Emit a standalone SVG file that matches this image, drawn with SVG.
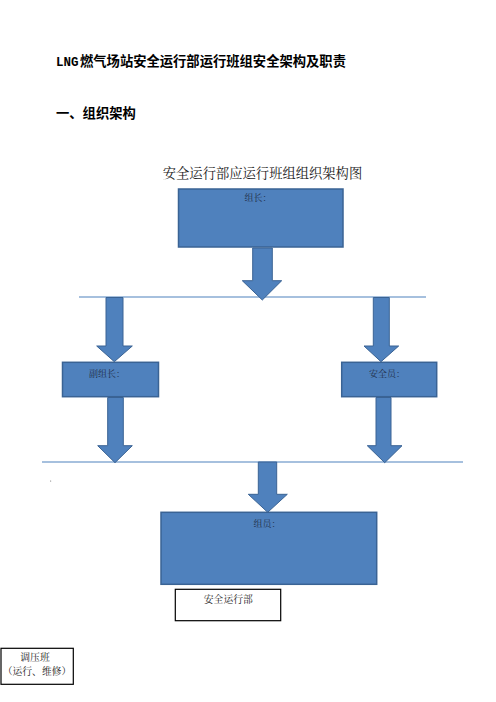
<svg xmlns="http://www.w3.org/2000/svg" width="496" height="702" viewBox="0 0 496 702">
<style>
.h{font-family:"Noto Sans CJK SC","DejaVu Sans",sans-serif;font-weight:bold;font-size:13.3px;fill:#000}
.t{font-family:"Noto Serif CJK SC","Liberation Serif","Noto Sans CJK SC",serif;fill:#222}
.box{fill:#4F81BD;stroke:#3A6394;stroke-width:1.5}
.arr{fill:#4F81BD;stroke:#3A6394;stroke-width:1}
.lbl{font-family:"Noto Serif CJK SC","Liberation Serif","Noto Sans CJK SC",serif;font-size:9px;fill:#1F2F4A;text-anchor:middle}
.ln{stroke:#4F81BD;stroke-width:1.2}
.wb{fill:#fff;stroke:#000;stroke-width:1.2}
</style>
<rect width="496" height="702" fill="#fff"/>
<text class="h" x="56" y="66"><tspan font-family="'Liberation Mono','DejaVu Sans Mono',monospace" font-size="12.5">LNG</tspan><tspan x="80">燃气场站安全运行部运行班组安全架构及职责</tspan></text>
<text class="h" x="56" y="118">一、组织架构</text>
<text class="t" x="262.5" y="178" font-size="13.3" text-anchor="middle">安全运行部应运行班组组织架构图</text>
<g id="connectors">
<line class="ln" x1="79" y1="297" x2="426" y2="297"/>
<line class="ln" x1="42" y1="462" x2="463" y2="462"/>
<polygon class="arr" points="252.7,248 272.3,248 272.3,280.7 281.7,280.7 262.3,300 242.3,280.7 252.7,280.7"/>
<polygon class="arr" points="106,297.5 123,297.5 123,346 132.3,346 114.3,361.7 96.7,346 106,346"/>
<polygon class="arr" points="373.3,297.5 389.3,297.5 389.3,346 398.7,346 381,361.7 364,346 373.3,346"/>
<polygon class="arr" points="107.7,397.5 123.3,397.5 123.3,445.7 132.3,445.7 115,462.7 97.7,445.7 107.7,445.7"/>
<polygon class="arr" points="376,397.5 391,397.5 391,445.7 402,445.7 384.7,462.7 367.3,445.7 376,445.7"/>
<polygon class="arr" points="258.3,462 276.7,462 276.7,494.3 287.3,494.3 267.7,512.3 248.3,494.3 258.3,494.3"/>
</g>
<g id="leader">
<rect class="box" x="178.5" y="189" width="164.5" height="58"/>
<text class="lbl" x="258" y="201">组长：</text>
</g>
<g id="deputy">
<rect class="box" x="62.5" y="362.3" width="96" height="34.4"/>
<text class="lbl" x="107" y="376.5">副组长：</text>
</g>
<g id="safety">
<rect class="box" x="341.7" y="362.3" width="95" height="34.4"/>
<text class="lbl" x="387" y="376.5">安全员：</text>
</g>
<g id="members">
<rect class="box" x="161" y="512.3" width="215.7" height="72"/>
<text class="lbl" x="267" y="526.5">组员：</text>
</g>
<circle cx="50.7" cy="481" r="0.5" fill="#555"/>
<g id="dept">
<rect class="wb" x="175.3" y="589.3" width="105.4" height="31.4"/>
<text class="t" x="228.3" y="603" font-size="9.8" text-anchor="middle" fill="#444">安全运行部</text>
</g>
<g id="regulator">
<rect class="wb" x="1" y="648.3" width="72.3" height="36"/>
<text class="t" x="35" y="661" font-size="9.8" text-anchor="middle" fill="#555">调压班</text>
<text class="t" x="37" y="675" font-size="9.8" text-anchor="middle" fill="#555">（运行、维修）</text>
</g>
</svg>
